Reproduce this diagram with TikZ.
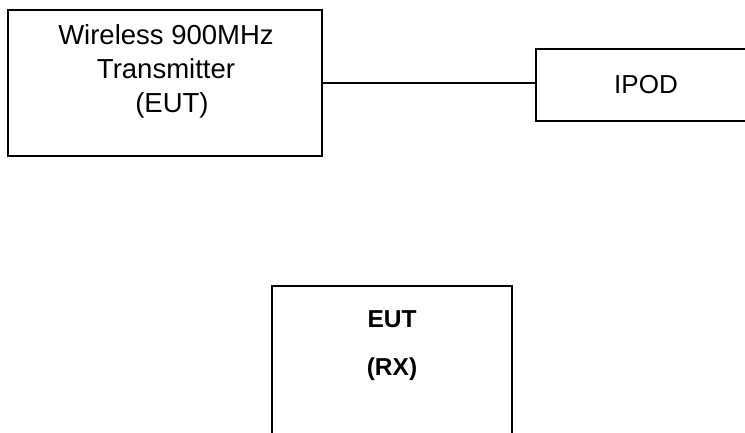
\documentclass[tikz,border=0pt]{standalone}
\usepackage{fontspec}
\setmainfont{Liberation Sans}
\usepackage{tikz}
\usetikzlibrary{positioning, calc}

\begin{document}
\begin{tikzpicture}[
    x=1pt, y=1pt,
    unit/.style={rectangle, draw=black, line width=1.8pt, fill=white},
    lbl/.style={align=center, font=\fontsize{27.5}{34}\selectfont, inner sep=0pt},
    blbl/.style={align=center, font=\fontsize{24.5}{48}\selectfont\bfseries, inner sep=0pt},
    wire/.style={line width=1.8pt, black},
]
\useasboundingbox (0,0) rectangle (745,432);
\clip (0,0) rectangle (745,432);

% ========== TOP ROW: transmitter -> IPOD ==========
\node[unit, minimum width=314, minimum height=146] at (165,349) (tx) {};
\node[lbl] at (166,361) (txtext) {Wireless 900MHz\\Transmitter\\\hspace*{12pt}(EUT)};

\node[unit, minimum width=260, minimum height=72] at (666,347) (ipod) {};
\node[lbl, font=\fontsize{26}{34}\selectfont] at (646,347) (ipodtext) {IPOD};

\draw[wire] (tx.east) -- (tx.east -| ipod.west);

% ========== BOTTOM: receiver ==========
\node[unit, minimum width=240, minimum height=200] at (392,46) (rx) {};
\node[blbl] at (392,86) (rxtext) {EUT\\(RX)};

\end{tikzpicture}
\end{document}
